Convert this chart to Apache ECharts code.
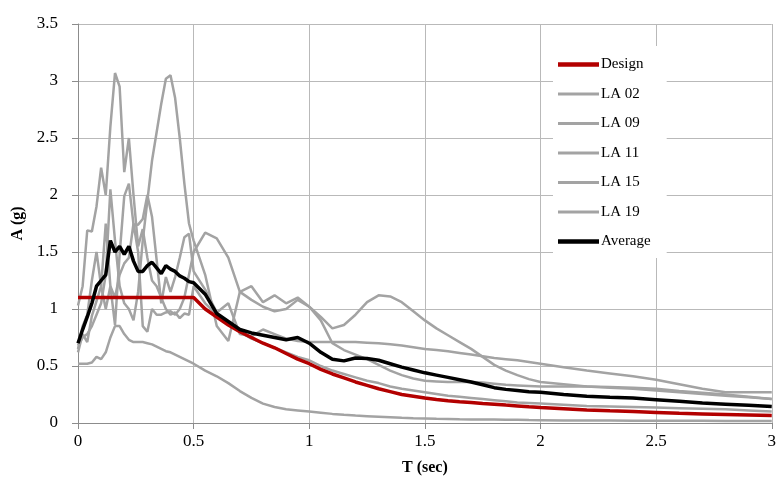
<!DOCTYPE html>
<html>
<head>
<meta charset="utf-8">
<script src="https://cdn.jsdelivr.net/npm/echarts@6/dist/echarts.min.js"></script>
<style>
  html, body { margin: 0; padding: 0; background: #fff; }
  #chart { width: 779px; height: 500px; }
</style>
</head>
<body>
<div id="chart"></div>
<script>
// Response spectra: period T (sec) vs spectral acceleration A (g)
const periods = [0, 0.02, 0.04, 0.06, 0.08, 0.1, 0.12, 0.14, 0.16, 0.18, 0.2, 0.22, 0.24, 0.26, 0.28, 0.3,
  0.32, 0.34, 0.36, 0.38, 0.4, 0.42, 0.44, 0.46, 0.48, 0.5,
  0.55, 0.6, 0.65, 0.7, 0.75, 0.8, 0.85, 0.9, 0.95, 1.0,
  1.05, 1.1, 1.15, 1.2, 1.25, 1.3, 1.35, 1.4, 1.45, 1.5,
  1.55, 1.6, 1.65, 1.7, 1.75, 1.8, 1.85, 1.9, 1.95, 2.0,
  2.1, 2.2, 2.3, 2.4, 2.5, 2.6, 2.7, 2.8, 2.9, 3.0];

const design = [1.1, 1.1, 1.1, 1.1, 1.1, 1.1, 1.1, 1.1, 1.1, 1.1, 1.1, 1.1, 1.1, 1.1, 1.1, 1.1,
  1.1, 1.1, 1.1, 1.1, 1.1, 1.1, 1.1, 1.1, 1.1, 1.1,
  1.0, 0.93, 0.86, 0.8, 0.75, 0.7, 0.66, 0.61, 0.56, 0.52,
  0.47, 0.43, 0.395, 0.36, 0.33, 0.3, 0.275, 0.25, 0.235, 0.22,
  0.207, 0.195, 0.187, 0.18, 0.172, 0.165, 0.157, 0.15, 0.142, 0.135,
  0.125, 0.115, 0.107, 0.1, 0.093, 0.085, 0.08, 0.075, 0.07, 0.065];

const la02 = [1.03, 1.2, 1.69, 1.68, 1.9, 2.24, 2.0, 2.6, 3.07, 2.95, 2.2, 2.5, 2.0, 1.55, 1.7, 1.45,
  1.25, 1.2, 1.1, 1.0, 0.95, 0.97, 0.92, 0.96, 0.95, 1.2,
  1.05, 0.95, 0.88, 0.8, 0.74, 0.7, 0.66, 0.62, 0.58, 0.55,
  0.5, 0.46, 0.43, 0.4, 0.37, 0.35, 0.32, 0.3, 0.285, 0.27,
  0.255, 0.24, 0.23, 0.22, 0.21, 0.2, 0.19, 0.18, 0.175, 0.17,
  0.16, 0.15, 0.145, 0.14, 0.135, 0.13, 0.125, 0.12, 0.11, 0.1];

const la09 = [0.68, 0.75, 0.78, 0.85, 0.95, 1.05, 1.3, 2.05, 1.6, 1.2, 1.05, 1.0, 0.9, 1.15, 1.6, 1.95,
  2.3, 2.55, 2.8, 3.02, 3.05, 2.85, 2.5, 2.1, 1.75, 1.6,
  1.3, 0.85, 0.72, 1.15, 1.2, 1.06, 1.12, 1.05, 1.1, 1.02,
  0.9, 0.7, 0.64, 0.6, 0.56, 0.51, 0.46, 0.42, 0.39, 0.37,
  0.365, 0.36, 0.36, 0.36, 0.355, 0.345, 0.335, 0.33, 0.325, 0.32,
  0.32, 0.32, 0.315, 0.31, 0.3, 0.28, 0.265, 0.25, 0.23, 0.21];

const la11 = [0.65, 0.85, 0.95, 1.25, 1.5, 1.2, 1.0, 1.2, 1.1, 1.3, 1.4, 1.45, 1.75, 1.5, 0.85, 0.8,
  1.0, 0.95, 0.95, 0.97, 0.98, 0.95, 1.0, 1.1, 1.3, 1.5,
  1.67, 1.62, 1.45, 1.15, 1.08, 1.02, 0.98, 1.0, 1.08, 1.02,
  0.93, 0.83, 0.86, 0.95, 1.06, 1.12, 1.11, 1.06, 0.98, 0.9,
  0.83, 0.77, 0.71, 0.65, 0.58, 0.51, 0.46, 0.42, 0.385, 0.36,
  0.34, 0.32, 0.31, 0.3, 0.285, 0.27, 0.255, 0.24, 0.225, 0.21];

const la15 = [0.62, 0.78, 0.71, 0.94, 1.07, 1.2, 1.75, 1.2, 0.86, 1.48, 1.99, 2.1, 1.74, 1.74, 1.79, 2.0,
  1.81, 1.43, 1.05, 1.28, 1.15, 1.28, 1.45, 1.63, 1.66, 1.33,
  1.17, 0.97, 1.05, 0.78, 0.76, 0.82, 0.78, 0.74, 0.72, 0.71,
  0.71, 0.71, 0.71, 0.71, 0.705, 0.7, 0.69, 0.68, 0.665, 0.65,
  0.64, 0.63, 0.615, 0.6, 0.585, 0.57, 0.56, 0.55, 0.535, 0.52,
  0.49, 0.46, 0.435, 0.41, 0.38, 0.34, 0.3, 0.27, 0.27, 0.27];

const la19 = [0.52, 0.52, 0.52, 0.53, 0.58, 0.56, 0.62, 0.75, 0.85, 0.85, 0.78, 0.73, 0.71, 0.71, 0.71, 0.7,
  0.69, 0.67, 0.65, 0.63, 0.62, 0.6, 0.58, 0.56, 0.54, 0.52,
  0.46, 0.41, 0.35, 0.28, 0.22, 0.17, 0.14, 0.12, 0.11, 0.1,
  0.09, 0.08, 0.072, 0.065, 0.06, 0.055, 0.05, 0.045, 0.042, 0.04,
  0.037, 0.035, 0.032, 0.03, 0.03, 0.03, 0.029, 0.028, 0.026, 0.025,
  0.023, 0.022, 0.021, 0.02, 0.02, 0.02, 0.019, 0.018, 0.018, 0.018];

const average = [0.70, 0.82, 0.93, 1.05, 1.2, 1.25, 1.3, 1.6, 1.5, 1.55, 1.48, 1.55, 1.42, 1.33, 1.33, 1.38,
  1.41, 1.36, 1.31, 1.38, 1.35, 1.33, 1.29, 1.27, 1.24, 1.23,
  1.13, 0.96, 0.89, 0.82, 0.79, 0.77, 0.75, 0.73, 0.75, 0.70,
  0.62, 0.56, 0.545, 0.57, 0.565, 0.55, 0.52, 0.49, 0.465, 0.44,
  0.42, 0.40, 0.38, 0.36, 0.335, 0.31, 0.295, 0.285, 0.275, 0.27,
  0.25, 0.235, 0.225, 0.22, 0.205, 0.19, 0.175, 0.165, 0.155, 0.145];

const xTicks = { min: 0, max: 3, step: 0.5 };
const yTicks = { min: 0, max: 3.5, step: 0.5 };

const SERIF = "'Liberation Serif', 'DejaVu Serif', serif";
const GRAY = '#a3a3a3';
// legend keys: plain horizontal bars (thin for records, thick for design/average)
const THIN_KEY = 'path://M0,0H40V3H0Z';
const THICK_KEY = 'path://M0,0H40V4.2H0Z';

function pairs(values) {
  return periods.map((t, i) => [t, values[i]]);
}

function record(name, values) {
  return {
    name: name, type: 'line', data: pairs(values), symbol: 'none', z: 2,
    lineStyle: { color: GRAY, width: 2.5 }, itemStyle: { color: GRAY }
  };
}

const chart = echarts.init(document.getElementById('chart'), null, { renderer: 'canvas' });

chart.setOption({
  animation: false,
  backgroundColor: '#ffffff',
  grid: { left: 78, right: 5, top: 24, bottom: 77, containLabel: false },
  legend: {
    orient: 'vertical',
    left: 553, top: 46,
    padding: [11, 16, 9, 5],
    backgroundColor: '#ffffff',
    itemWidth: 41, itemHeight: 14, itemGap: 14.5,
    symbolKeepAspect: true,
    data: [
      { name: 'Design', icon: THICK_KEY },
      { name: 'LA 02', icon: THIN_KEY },
      { name: 'LA 09', icon: THIN_KEY },
      { name: 'LA 11', icon: THIN_KEY },
      { name: 'LA 15', icon: THIN_KEY },
      { name: 'LA 19', icon: THIN_KEY },
      { name: 'Average', icon: THICK_KEY }
    ],
    textStyle: { fontFamily: SERIF, fontSize: 15, color: '#000', padding: [0, 0, 0, -3] }
  },
  xAxis: {
    type: 'value', min: xTicks.min, max: xTicks.max, interval: xTicks.step,
    name: 'T (sec)', nameLocation: 'middle', nameGap: 37,
    nameTextStyle: { fontFamily: SERIF, fontSize: 16, fontWeight: 'bold', color: '#000' },
    axisLine: { show: true, onZero: false, lineStyle: { color: '#8c8c8c', width: 1 } },
    axisTick: { show: true, length: 6, lineStyle: { color: '#8c8c8c' } },
    axisLabel: { fontFamily: SERIF, fontSize: 17, color: '#000', margin: 10 },
    splitLine: { show: true, lineStyle: { color: '#b9b9b9', width: 1 } }
  },
  yAxis: {
    type: 'value', min: yTicks.min, max: yTicks.max, interval: yTicks.step,
    name: 'A (g)', nameLocation: 'middle', nameGap: 47, nameRotate: 90,
    nameTextStyle: { fontFamily: SERIF, fontSize: 16, fontWeight: 'bold', color: '#000' },
    axisLine: { show: true, lineStyle: { color: '#8c8c8c', width: 1 } },
    axisTick: { show: true, length: 6, lineStyle: { color: '#8c8c8c' } },
    axisLabel: { fontFamily: SERIF, fontSize: 17, color: '#000', margin: 20 },
    splitLine: { show: true, lineStyle: { color: '#b9b9b9', width: 1 } }
  },
  series: [
    record('LA 02', la02),
    record('LA 09', la09),
    record('LA 11', la11),
    record('LA 15', la15),
    record('LA 19', la19),
    {
      name: 'Design', type: 'line', data: pairs(design), symbol: 'none', z: 3,
      lineStyle: { color: '#b30000', width: 3.5 }, itemStyle: { color: '#b30000' }
    },
    {
      name: 'Average', type: 'line', data: pairs(average), symbol: 'none', z: 4,
      lineStyle: { color: '#000000', width: 3.5 }, itemStyle: { color: '#000000' }
    }
  ]
});
</script>
</body>
</html>
